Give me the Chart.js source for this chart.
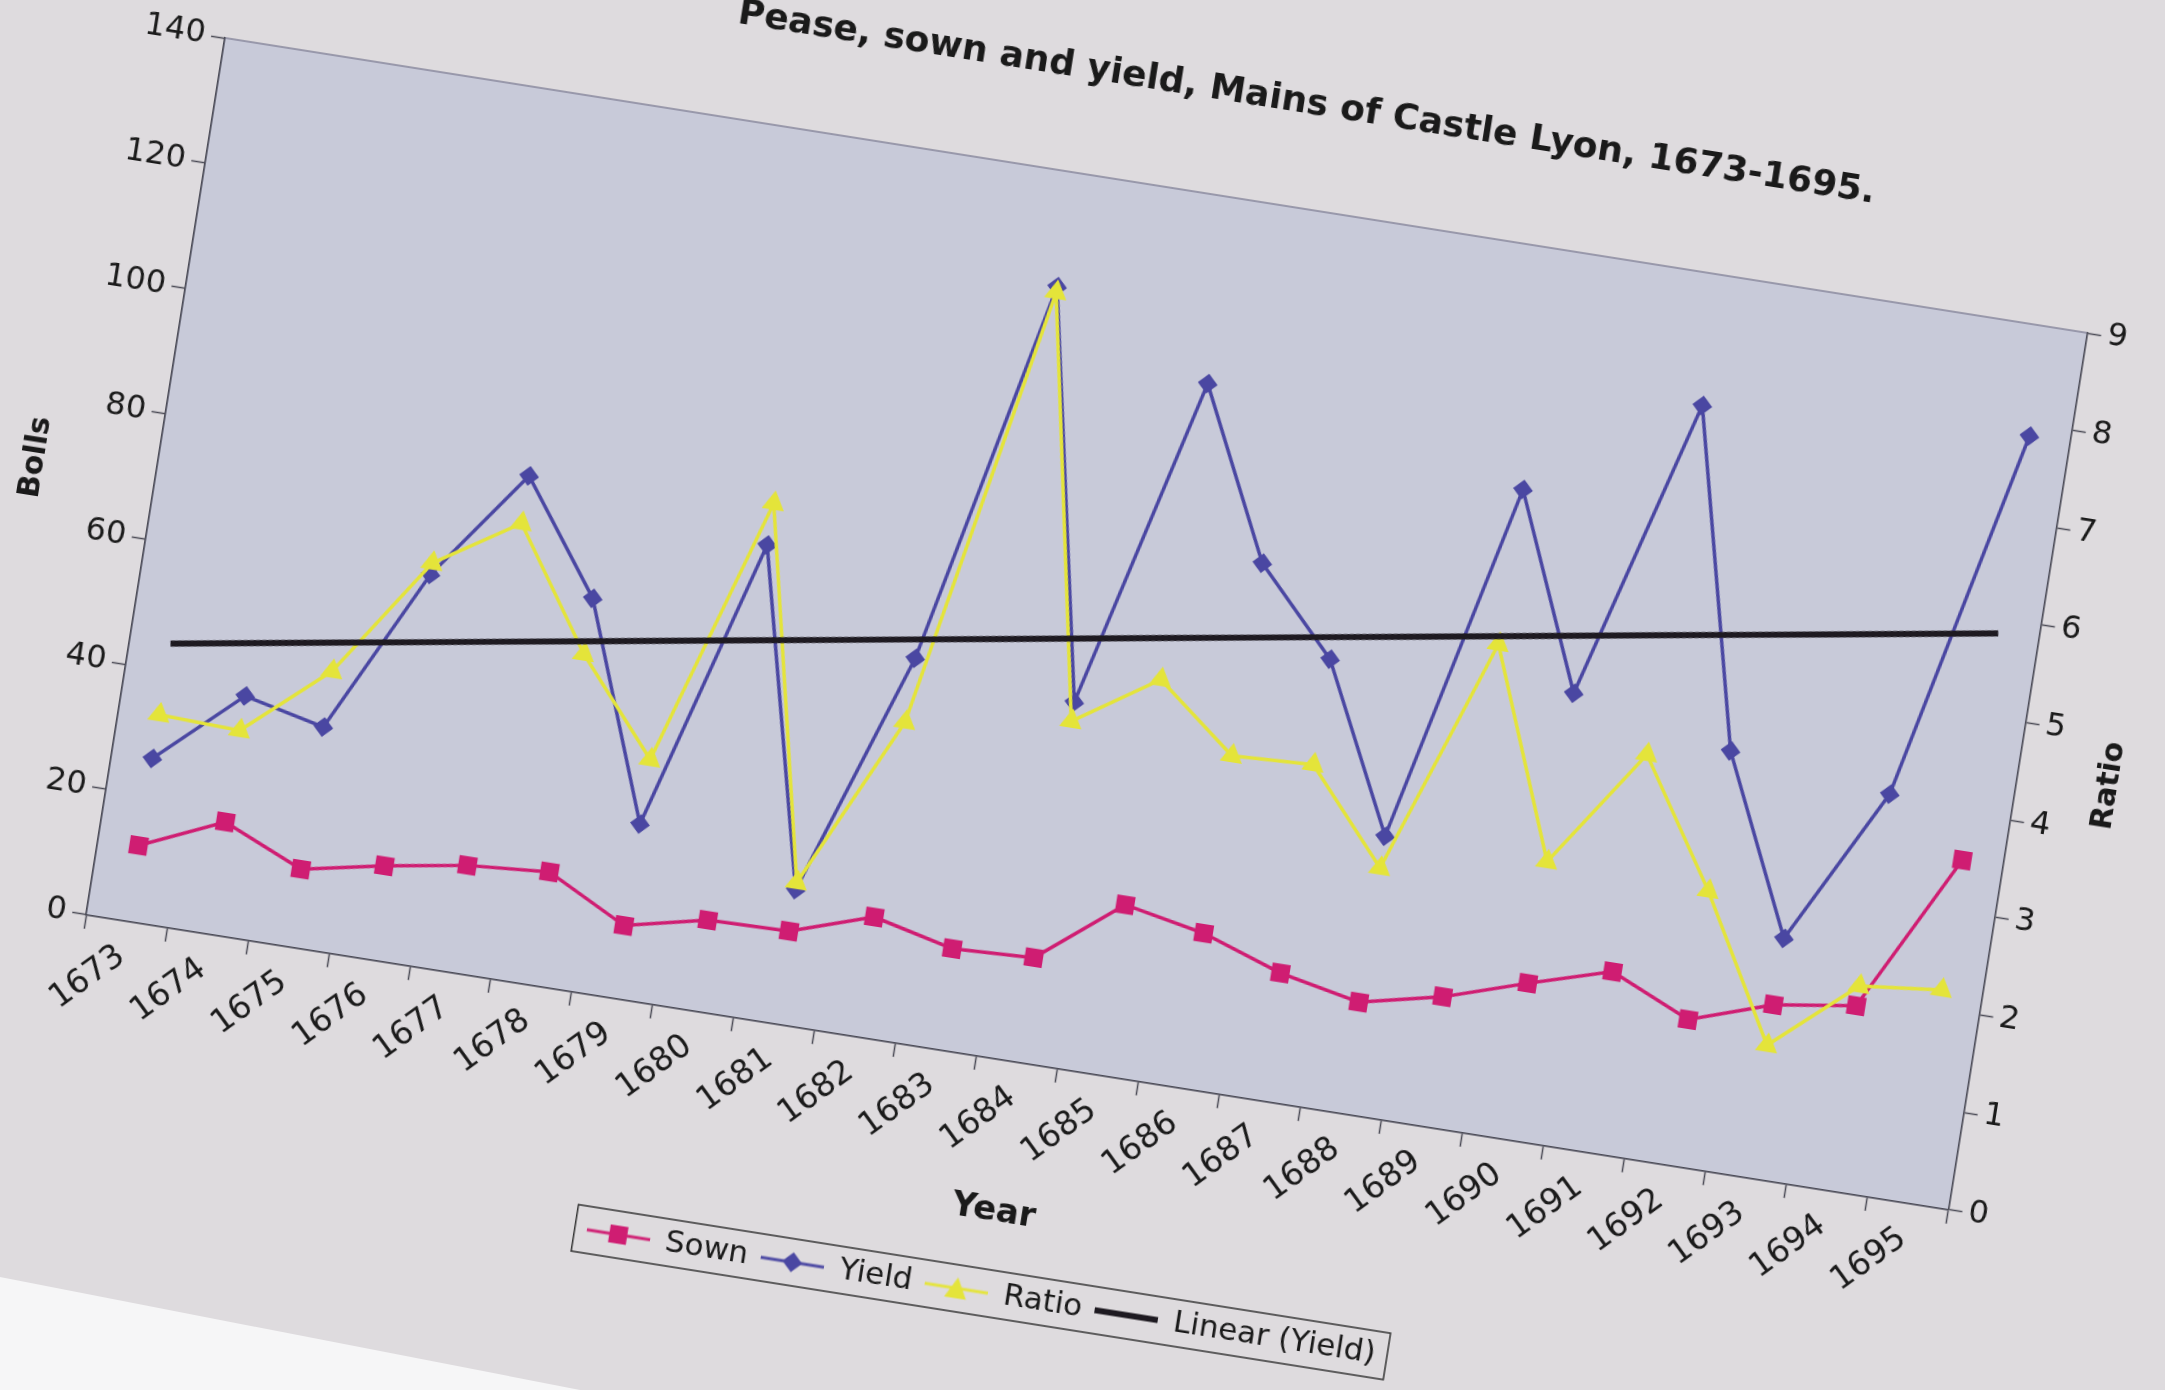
<!DOCTYPE html>
<html>
<head>
<meta charset="utf-8">
<script src="https://cdn.jsdelivr.net/npm/chart.js@4.4.1/dist/chart.umd.min.js"></script>
<style>
  html, body { margin: 0; padding: 0; width: 2165px; height: 1390px; overflow: hidden; background: #dedbde; }
  #edge { position: absolute; left: 0; top: 0; width: 2165px; height: 1390px; background: #f6f6f7;
          clip-path: polygon(0 1277px, 580px 1390px, 0 1390px); }
  #chart { position: absolute; }
</style>
</head>
<body>
<div id="edge"></div>
<canvas id="chart"></canvas>
<script>
const years = ['1673','1674','1675','1676','1677','1678','1679','1680','1681','1682','1683','1684',
               '1685','1686','1687','1688','1689','1690','1691','1692','1693','1694','1695'];
const sown = [12.1, 17.9, 12.4, 15.0, 17.1, 18.1, 11.6, 14.5, 14.8, 19.1, 16.1, 16.7,
              27.2, 24.7, 20.4, 17.8, 20.7, 24.9, 28.8, 23.2, 27.6, 29.5, 54.8];
const yieldBolls = [26.0, 38.0, 35.1, 61.5, 79.3, 61.8, 27.8, 74.4, 21.4, 60.4, 121.8, 57.5,
                    110.4, 83.8, 70.5, 44.3, 101.7, 71.2, 119.2, 66.1, 38.2, 63.3, 122.5];
const ratio = [2.12, 2.09, 2.83, 4.07, 4.61, 3.40, 2.45, 5.21, 1.45, 3.23, 7.77, 3.50,
               4.06, 3.41, 3.45, 2.52, 4.95, 2.85, 4.08, 2.81, 1.36, 2.10, 2.19];
const bollsRange = [0, 140, 20];
const ratioRange = [0, 9, 1];
const titleText = 'Pease, sown and yield, Mains of Castle Lyon, 1673-1695.';

// least squares line through the yield series (Excel "Linear (Yield)")
function linearFit(ys) {
  const n = ys.length, mx = (n - 1) / 2;
  const my = ys.reduce((s, v) => s + v, 0) / n;
  let sxy = 0, sxx = 0;
  ys.forEach((v, i) => { sxy += (i - mx) * (v - my); sxx += (i - mx) ** 2; });
  const k = sxy / sxx;
  return ys.map((_, i) => my + k * (i - mx));
}

const FONT = "'DejaVu Sans', Verdana, sans-serif";
const col = { sown: '#cf1d72', yield: '#4a47a2', ratio: '#e4e43a', trend: '#1e1a21',
              plot: '#c8cad9', axis: '#4a4a55', text: '#1a1a1a' };

// photo of the printed page: plot sits tilted on the sheet
const PLOT_W = 1886, PLOT_H = 888;
const ORIGIN = { x: 86, y: 915 };
const TILT = 9;

function legendIcon(color, shape, lw) {
  const c = document.createElement('canvas');
  c.width = 64; c.height = 26;
  const g = c.getContext('2d');
  g.strokeStyle = color; g.fillStyle = color; g.lineWidth = lw;
  g.beginPath(); g.moveTo(0, 13); g.lineTo(64, 13); g.stroke();
  g.beginPath();
  if (shape === 'rect') g.rect(23, 4, 18, 18);
  if (shape === 'diamond') { g.moveTo(32, 3); g.lineTo(42, 13); g.lineTo(32, 23); g.lineTo(22, 13); }
  if (shape === 'triangle') { g.moveTo(32, 2); g.lineTo(43, 23); g.lineTo(21, 23); }
  g.closePath(); g.fill();
  return c;
}
const icons = [legendIcon(col.sown, 'rect', 3), legendIcon(col.yield, 'diamond', 3),
               legendIcon(col.ratio, 'triangle', 3), legendIcon(col.trend, 'none', 6)];

const decor = {
  id: 'decor',
  beforeDraw(chart) {
    const { ctx, chartArea: a } = chart;
    ctx.save();
    ctx.fillStyle = col.plot;
    ctx.fillRect(a.left, a.top, a.width, a.height);
    ctx.strokeStyle = '#85859a'; ctx.lineWidth = 1.5;
    ctx.strokeRect(a.left, a.top, a.width, a.height);
    ctx.restore();
  },
  afterDraw(chart) {
    const { ctx, chartArea: a, legend } = chart;
    ctx.save();
    ctx.fillStyle = col.text;
    ctx.textAlign = 'center'; ctx.textBaseline = 'middle';
    ctx.font = `bold 36px ${FONT}`;
    ctx.fillText(titleText, a.left + a.width * 0.572, a.top - a.height * 0.118);
    ctx.save();
    ctx.font = `bold 30px ${FONT}`;
    ctx.translate(a.right + 93, a.top + a.height * 0.5);
    ctx.rotate(-Math.PI / 2);
    ctx.fillText('Ratio', 0, 0);
    ctx.restore();
    const hb = legend.legendHitBoxes;
    const l = Math.min(...hb.map(b => b.left)), r = Math.max(...hb.map(b => b.left + b.width));
    const t = Math.min(...hb.map(b => b.top)), btm = Math.max(...hb.map(b => b.top + b.height));
    ctx.strokeStyle = '#333'; ctx.lineWidth = 1.5;
    ctx.strokeRect(l - 12, t - 8, r - l + 24, btm - t + 16);
    ctx.restore();
  }
};

function makeConfig() {
  const axisGrid = { drawOnChartArea: false, drawTicks: true, tickLength: 14, tickColor: col.axis, tickWidth: 1.5 };
  const axisBorder = { display: true, color: col.axis, width: 1.5 };
  return {
    type: 'line',
    data: {
      labels: years,
      datasets: [
        { label: 'Sown', data: sown, yAxisID: 'y', order: 3, borderColor: col.sown, backgroundColor: col.sown,
          borderWidth: 3.5, pointStyle: 'rect', pointRadius: 13, pointBorderWidth: 0 },
        { label: 'Yield', data: yieldBolls, yAxisID: 'y', order: 2, borderColor: col.yield, backgroundColor: col.yield,
          borderWidth: 3.5, pointStyle: 'rectRot', pointRadius: 10, pointBorderWidth: 0 },
        { label: 'Ratio', data: ratio, yAxisID: 'y2', order: 1, borderColor: col.ratio, backgroundColor: col.ratio,
          borderWidth: 3.5, pointStyle: 'triangle', pointRadius: 13, pointBorderWidth: 0 },
        { label: 'Linear (Yield)', data: linearFit(yieldBolls), yAxisID: 'y', order: 0, borderColor: col.trend,
          borderWidth: 6, pointRadius: 0 }
      ]
    },
    options: {
      responsive: false,
      maintainAspectRatio: false,
      animation: false,
      elements: { line: { tension: 0 } },
      layout: { padding: { top: 150, right: 80, left: 4, bottom: 12 } },
      scales: {
        x: {
          offset: true,
          grid: { ...axisGrid, offset: true },
          border: axisBorder,
          ticks: { autoSkip: false, minRotation: 45, maxRotation: 45, color: col.text, font: { size: 33 }, padding: 4 },
          title: { display: true, text: 'Year', color: col.text, font: { size: 34, weight: 'bold' }, padding: { top: 22, bottom: 32 } }
        },
        y: {
          position: 'left', min: bollsRange[0], max: bollsRange[1],
          grid: axisGrid, border: axisBorder,
          ticks: { stepSize: bollsRange[2], color: col.text, font: { size: 32 }, padding: 6 },
          title: { display: true, text: 'Bolls', color: col.text, font: { size: 30, weight: 'bold' }, padding: { top: 4, bottom: 16 } }
        },
        y2: {
          position: 'right', min: ratioRange[0], max: ratioRange[1],
          grid: axisGrid, border: axisBorder,
          ticks: { stepSize: ratioRange[2], color: col.text, font: { size: 32 }, padding: 6 }
        }
      },
      plugins: {
        tooltip: { enabled: false },
        legend: {
          position: 'bottom',
          fullSize: false,
          labels: {
            usePointStyle: true, pointStyleWidth: 64, boxHeight: 26,
            color: col.text, font: { size: 31 }, padding: 13,
            sort: (a, b) => a.datasetIndex - b.datasetIndex,
            generateLabels: chart => Chart.defaults.plugins.legend.labels.generateLabels(chart)
              .map(item => ({ ...item, pointStyle: icons[item.datasetIndex] }))
          }
        }
      }
    },
    plugins: [decor]
  };
}

Chart.defaults.font.family = FONT;
const canvas = document.getElementById('chart');
function build(w, h) {
  canvas.width = w; canvas.height = h;
  canvas.style.width = w + 'px'; canvas.style.height = h + 'px';
  return new Chart(canvas, makeConfig());
}
let chart = build(2300, 1500);
const dw = PLOT_W - chart.chartArea.width, dh = PLOT_H - chart.chartArea.height;
chart.destroy();
chart = build(2300 + Math.round(dw), 1500 + Math.round(dh));

const a = chart.chartArea;
canvas.style.left = (ORIGIN.x - a.left) + 'px';
canvas.style.top = (ORIGIN.y - a.bottom) + 'px';
canvas.style.transformOrigin = `${a.left}px ${a.bottom}px`;
canvas.style.transform = `rotate(${TILT}deg)`;
</script>
</body>
</html>
